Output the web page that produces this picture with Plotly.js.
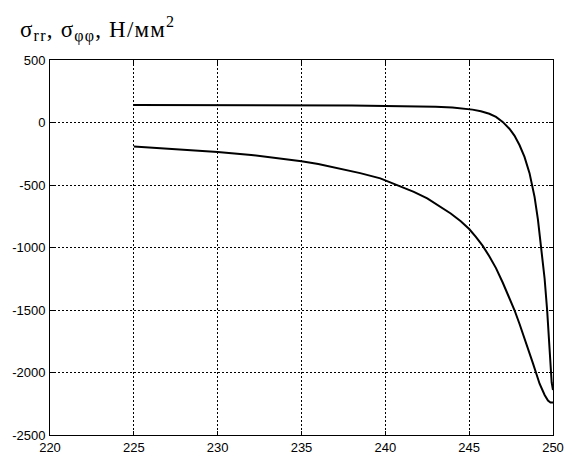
<!DOCTYPE html>
<html><head><meta charset="utf-8">
<script src="https://cdn.plot.ly/plotly-3.0.1.min.js"></script>
<style>html,body{margin:0;padding:0;background:#fff}#chart{width:566px;height:454px}
.annotation-text{letter-spacing:1.2px}</style>
</head><body><div id="chart"></div>
<script>
// upper curve
const xUpper = [225, 228, 232, 236, 238, 240, 242, 243, 244, 244.6, 245.2, 245.7, 246.2, 246.6, 247.0, 247.4, 247.7, 248.0, 248.3, 248.6, 248.9, 249.1, 249.3, 249.5, 249.65, 249.8, 249.92, 250];
const yUpper = [140, 140, 140, 139, 136, 133, 130, 126, 120, 113, 103, 90, 70, 45, 5, -50, -105, -180, -275, -405, -595, -775, -1000, -1250, -1500, -1820, -2080, -2140];
// lower curve
const xLower = [225, 226, 228, 230, 232, 234, 235, 236, 237.3, 238.5, 239.7, 240.9, 241.7, 242.5, 243.2, 243.9, 244.5, 245.0, 245.4, 245.8, 246.2, 246.6, 247.0, 247.4, 247.7, 248.0, 248.3, 248.8, 249.2, 249.5, 249.7, 249.85, 250];
const yLower = [-192, -200, -215, -235, -260, -290, -310, -332, -370, -405, -447, -508, -555, -607, -665, -728, -790, -852, -915, -985, -1070, -1165, -1280, -1400, -1500, -1610, -1725, -1925, -2090, -2180, -2225, -2240, -2240];
const xTicks = [220, 225, 230, 235, 240, 245, 250];
const yTicks = [500, 0, -500, -1000, -1500, -2000, -2500];
const titleText = "σ<sub>rr</sub>, σ<sub>φφ</sub>, Н/мм<sup>2</sup>";

const lineStyle = {color: '#000', width: 2};
const data = [
  {x: xUpper, y: yUpper, mode: 'lines', line: lineStyle, type: 'scatter'},
  {x: xLower, y: yLower, mode: 'lines', line: lineStyle, type: 'scatter'}
];
const axisCommon = {
  showline: true, mirror: 'ticks', linecolor: '#000', linewidth: 1,
  showgrid: true, gridcolor: '#000', griddash: '2px,2px', gridwidth: 1,
  ticks: 'inside', ticklen: 4, tickcolor: '#000', zeroline: false,
  tickfont: {family: 'Liberation Sans, Arial, sans-serif', size: 13, color: '#000'}
};
const layout = {
  width: 566, height: 454,
  margin: {l: 50, r: 13, t: 60, b: 19},
  paper_bgcolor: '#fff', plot_bgcolor: '#fff',
  showlegend: false,
  xaxis: Object.assign({}, axisCommon, {range: [220, 250], tickvals: xTicks, ticktext: xTicks.map(String), ticklabelstandoff: 0}),
  yaxis: Object.assign({}, axisCommon, {range: [-2500, 500], tickvals: yTicks, ticktext: yTicks.map(String), ticklabelstandoff: 1}),
  annotations: [{
    text: titleText, xref: 'paper', yref: 'paper', x: -0.064, y: 1.083,
    xanchor: 'left', yanchor: 'middle', showarrow: false,
    font: {family: 'Liberation Serif, Times New Roman, serif', size: 23, color: '#000'}
  }]
};
Plotly.newPlot('chart', data, layout, {staticPlot: true, displayModeBar: false});
</script></body></html>
